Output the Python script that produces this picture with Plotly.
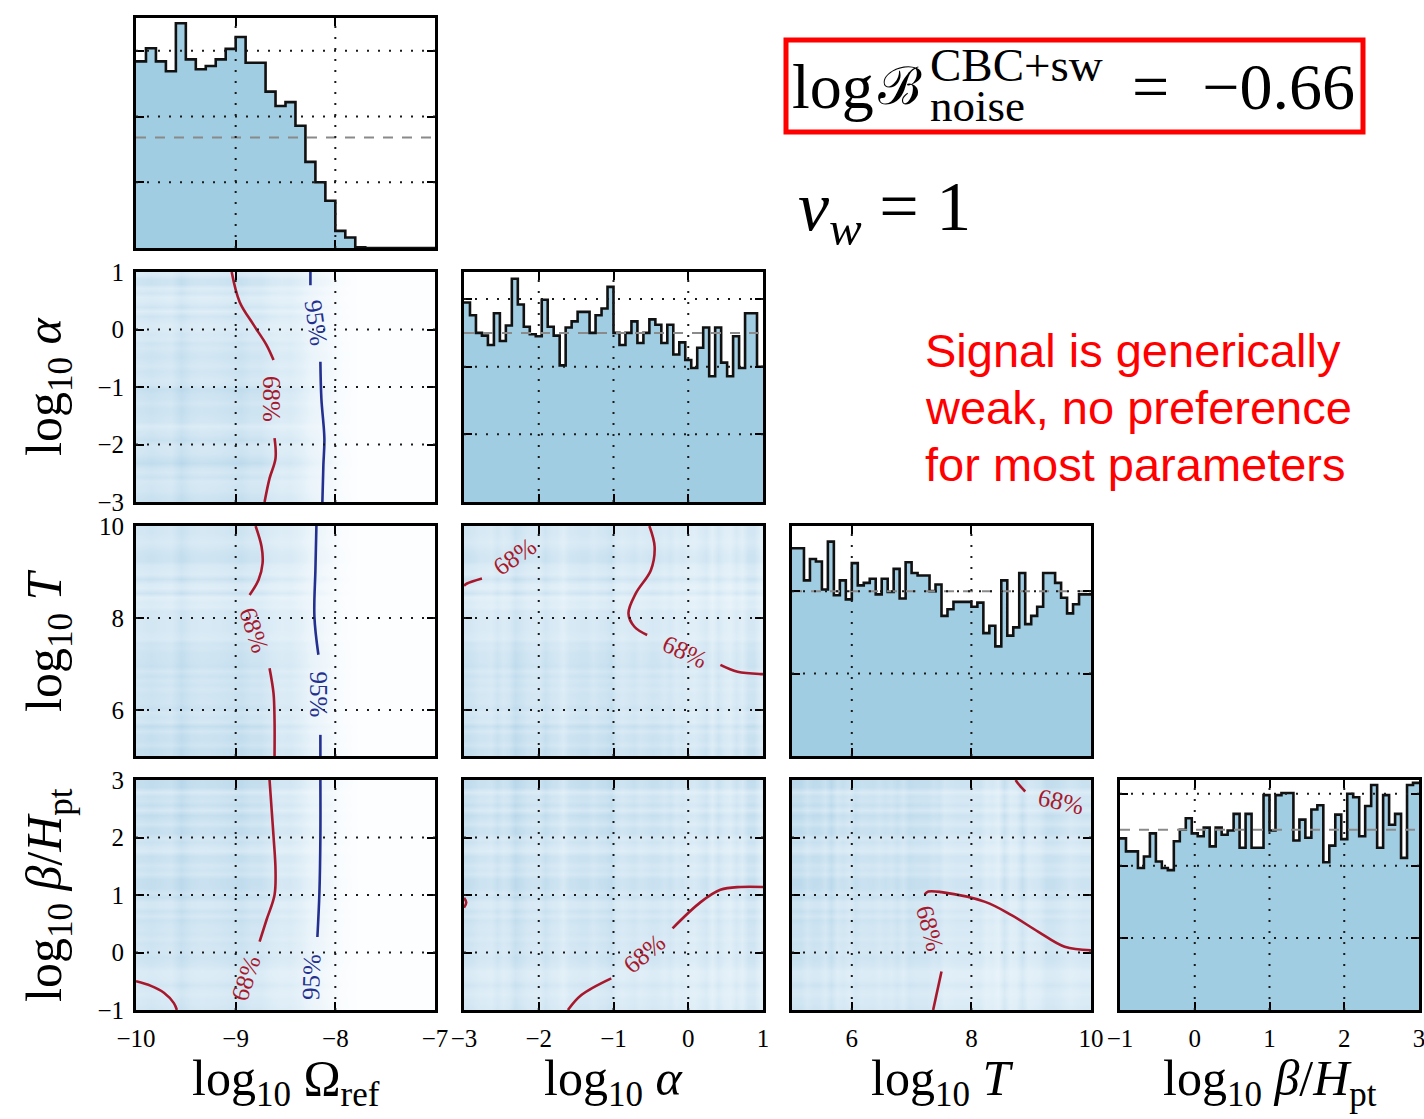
import numpy as np
import plotly.graph_objects as go

W, H = 1424, 1119

# ---------------- data ----------------
var_ranges = {"omega": [-10, -7], "alpha": [-3, 1], "T": [5, 10], "beta": [-1, 3]}
var_ticks = {"omega": [-10, -9, -8, -7], "alpha": [-3, -2, -1, 0, 1],
             "T": [6, 8, 10], "beta": [-1, 0, 1, 2, 3]}
var_order = ["omega", "alpha", "T", "beta"]

omega_hist = [2.84, 3.04, 2.84, 2.69, 3.42, 2.87, 2.72, 2.77, 2.87, 3.03,
              3.21, 2.82, 2.82, 2.38, 2.16, 2.22, 1.86, 1.31, 1.00, 0.72,
              0.26, 0.16, 0.01, 0, 0, 0, 0, 0, 0, 0]
alpha_hist = [2.95, 2.76, 2.50, 2.46, 2.32, 2.79, 2.38, 2.61, 3.30, 2.92,
              2.59, 2.48, 2.45, 2.99, 2.59, 2.46, 2.02, 2.58, 2.67, 2.81,
              2.81, 2.50, 2.76, 2.86, 3.18, 2.50, 2.32, 2.50, 2.67, 2.35,
              2.50, 2.70, 2.62, 2.35, 2.62, 2.18, 2.36, 2.10, 1.98, 2.28,
              2.58, 1.86, 2.58, 2.06, 1.86, 2.45, 1.98, 2.79, 2.79, 2.00]
T_hist = [2.52, 2.52, 2.13, 2.39, 2.36, 2.02, 2.60, 1.95, 2.13, 1.90,
          2.34, 2.07, 2.10, 2.15, 1.96, 2.15, 1.99, 2.27, 1.91, 2.35,
          2.22, 2.19, 2.19, 2.00, 2.08, 1.70, 1.78, 1.87, 1.87, 1.87,
          1.81, 1.86, 1.49, 1.58, 1.33, 2.13, 1.46, 1.56, 2.22, 1.60,
          1.70, 1.81, 2.22, 2.22, 2.10, 1.92, 1.73, 1.84, 1.96, 1.96]
beta_hist = [2.38, 2.20, 2.20, 1.97, 2.13, 2.45, 2.06, 1.97, 1.94, 2.34,
             2.50, 2.66, 2.45, 2.41, 2.53, 2.27, 2.53, 2.43, 2.49, 2.72,
             2.25, 2.72, 2.25, 2.25, 2.98, 2.49, 2.98, 3.01, 3.01, 2.35,
             2.64, 2.39, 2.78, 2.84, 2.05, 2.28, 2.71, 2.37, 3.00, 2.95,
             2.41, 2.83, 3.12, 2.25, 2.98, 2.57, 2.72, 2.11, 3.12, 3.15]
hists = {"omega": omega_hist, "alpha": alpha_hist, "T": T_hist, "beta": beta_hist}
prior_levels = {"omega": 1.68, "alpha": 2.5, "T": 2.0, "beta": 2.5}
hist_ymax = {"omega": 3.5, "alpha": 3.4, "T": 2.79, "beta": 3.19}
hist_yticks = {"omega": [1, 2, 3], "alpha": [1, 2, 3], "T": [1, 2], "beta": [1, 2, 3]}

# contour segments: (row, col) -> list of (level, xs, ys)
contours = {
    (1, 0): [("68", [-9.04, -8.96, -8.82, -8.69, -8.62], [1.0, 0.48, 0.08, -0.27, -0.53]),
             ("68", [-8.61, -8.60, -8.66, -8.71], [-1.89, -2.24, -2.59, -3.0]),
             ("95", [-8.25, -8.25], [1.0, 0.77]),
             ("95", [-8.15, -8.14, -8.11, -8.12, -8.13], [-0.56, -1.20, -1.89, -2.36, -3.0])],
    (2, 0): [("68", [-8.80, -8.74, -8.73, -8.77, -8.86], [10.0, 9.55, 9.19, 8.83, 8.50]),
             ("68", [-8.66, -8.62, -8.61, -8.61], [6.91, 6.36, 5.78, 5.0]),
             ("95", [-8.19, -8.20, -8.21, -8.17], [10.0, 9.04, 8.03, 7.20]),
             ("95", [-8.15, -8.15], [5.46, 5.0])],
    (3, 0): [("68", [-8.66, -8.62, -8.60, -8.61, -8.69, -8.76], [3.0, 2.02, 1.43, 1.0, 0.57, 0.19]),
             ("68", [-10.0, -9.85, -9.72, -9.62, -9.59], [-0.50, -0.58, -0.70, -0.88, -1.0]),
             ("95", [-8.15, -8.15, -8.16, -8.18], [3.0, 2.01, 1.03, 0.27])],
    (2, 1): [("68", [-3.0, -2.96, -2.76], [8.70, 8.75, 8.86]),
             ("68", [-0.52, -0.45, -0.50, -0.70, -0.80, -0.72, -0.55], [10.0, 9.55, 9.04, 8.54, 8.10, 7.81, 7.63]),
             ("68", [0.43, 0.66, 0.97, 1.0], [6.98, 6.83, 6.78, 6.78])],
    (3, 1): [("68", [-1.61, -1.43, -1.03], [-1.0, -0.74, -0.45]),
             ("68", [-0.21, 0.17, 0.43, 0.70, 1.0], [0.42, 0.88, 1.09, 1.14, 1.14]),
             ("68", [-3.0, -2.97, -3.0], [0.95, 0.87, 0.78])],
    (3, 2): [("68", [8.74, 8.78, 8.90], [3.0, 2.94, 2.80]),
             ("68", [10.0, 9.56, 9.12, 8.67, 8.23, 7.50, 7.28, 7.22], [0.04, 0.10, 0.36, 0.65, 0.88, 1.05, 1.06, 1.01]),
             ("68", [7.50, 7.36], [-0.33, -1.0])],
}
# contour labels: (row, col) -> list of (text, x, y, angle)
contour_labels = {
    (1, 0): [("68%", -8.64, -1.2, 90), ("95%", -8.19, 0.11, 82)],
    (2, 0): [("68%", -8.82, 7.74, 72), ("95%", -8.17, 6.33, 90)],
    (3, 0): [("68%", -8.90, -0.45, -72), ("95%", -8.24, -0.42, -88)],
    (2, 1): [("68%", -2.32, 9.33, -35), ("68%", -0.05, 7.27, 25)],
    (3, 1): [("68%", -0.59, -0.01, -40)],
    (3, 2): [("68%", 9.50, 2.62, 12), ("68%", 7.31, 0.42, 75)],
}

axis_titles = {"omega": "log<sub>10</sub> Ω<sub>ref</sub>",
               "alpha": "log<sub>10</sub> <i>α</i>",
               "T": "log<sub>10</sub> <i>T</i>",
               "beta": "log<sub>10</sub> <i>β</i>/<i>H</i><sub>pt</sub>"}

# ---------------- layout geometry ----------------
col_px = [(136, 435), (464, 763), (792, 1091), (1120, 1419)]
row_px = [(18, 248), (272, 502), (526, 756), (780, 1010)]


def px(x):
    return x / W


def py(y):
    return 1 - y / H


FILL = "#a0cde2"
RED = "#a8182c"
BLUE = "#23308f"
SERIF = "Liberation Serif, DejaVu Serif, serif"

fig = go.Figure()
layout = dict(width=W, height=H, autosize=False, margin=dict(l=0, r=0, t=0, b=0, pad=0),
              paper_bgcolor="white", plot_bgcolor="white", showlegend=False)
shapes = []
annotations = []

panels = [(r, c) for r in range(4) for c in range(r + 1)]
axis_common = dict(showline=True, linecolor="black", linewidth=2.8, mirror="allticks",
                   ticks="inside", ticklen=8, tickwidth=2, tickcolor="black",
                   showgrid=False, zeroline=False, layer="above traces", automargin=False,
                   tickfont=dict(family=SERIF, size=25, color="black"),
                   ticklabeloverflow="allow", ticklabelstandoff=4, fixedrange=True,
                   tickmode="array")


def centers(vals, rng):
    e = np.linspace(rng[0], rng[1], len(vals) + 1)
    return (e[:-1] + e[1:]) / 2


for k, (r, c) in enumerate(panels, start=1):
    xs = "x" if k == 1 else f"x{k}"
    ys = "y" if k == 1 else f"y{k}"
    xkey = "xaxis" if k == 1 else f"xaxis{k}"
    ykey = "yaxis" if k == 1 else f"yaxis{k}"
    xv = var_order[c]
    yv = var_order[r]
    xdom = [px(col_px[c][0]), px(col_px[c][1])]
    ydom = [py(row_px[r][1]), py(row_px[r][0])]

    layout[xkey] = dict(axis_common, domain=xdom, anchor=ys, range=var_ranges[xv],
                        tickvals=var_ticks[xv], showticklabels=(r == 3))
    xgrid = [t for t in var_ticks[xv] if var_ranges[xv][0] < t < var_ranges[xv][1]]

    if r == c:
        vals = hists[xv]
        edges = np.linspace(var_ranges[xv][0], var_ranges[xv][1], len(vals) + 1)
        fig.add_trace(go.Scatter(x=edges, y=list(vals) + [vals[-1]], mode="lines",
                                 line=dict(shape="hv", color="#111", width=2.6),
                                 fill="tozeroy", fillcolor=FILL, xaxis=xs, yaxis=ys,
                                 hoverinfo="skip"))
        fig.add_trace(go.Scatter(x=var_ranges[xv], y=[prior_levels[xv]] * 2, mode="lines",
                                 line=dict(color="#8a8a8a", width=2, dash="10px,9px"),
                                 xaxis=xs, yaxis=ys, hoverinfo="skip"))
        layout[ykey] = dict(axis_common, domain=ydom, anchor=xs, range=[0, hist_ymax[xv]],
                            tickvals=hist_yticks[xv], showticklabels=False)
        ygrid = hist_yticks[xv]
    else:
        hx = np.array(hists[xv], dtype=float)
        hy = np.array(hists[yv], dtype=float)
        z = np.outer(hy, hx)
        z = z / z.max()
        fig.add_trace(go.Heatmap(x=centers(hx, var_ranges[xv]), y=centers(hy, var_ranges[yv]),
                                 z=z, zmin=0, zmax=1, zsmooth="best", showscale=False,
                                 colorscale=[[0, "rgb(253,254,255)"], [0.5, "rgb(220,236,246)"],
                                             [1, "rgb(184,215,234)"]],
                                 xaxis=xs, yaxis=ys, hoverinfo="skip"))
        for lev, cx, cy in contours.get((r, c), []):
            fig.add_trace(go.Scatter(x=cx, y=cy, mode="lines",
                                     line=dict(color=RED if lev == "68" else BLUE, width=2.6,
                                               shape="spline"),
                                     xaxis=xs, yaxis=ys, hoverinfo="skip"))
        for txt, lx, ly, ang in contour_labels.get((r, c), []):
            annotations.append(dict(text=txt, x=lx, y=ly, xref=xs, yref=ys, showarrow=False,
                                    textangle=ang, xanchor="center", yanchor="middle",
                                    font=dict(family=SERIF, size=25,
                                              color=RED if txt.startswith("68") else BLUE)))
        layout[ykey] = dict(axis_common, domain=ydom, anchor=xs, range=var_ranges[yv],
                            tickvals=var_ticks[yv], showticklabels=(c == 0))
        ygrid = [t for t in var_ticks[yv] if var_ranges[yv][0] < t < var_ranges[yv][1]]

    for g in xgrid:
        shapes.append(dict(type="line", xref=xs, yref=f"{ys} domain", x0=g, x1=g, y0=0, y1=1,
                           line=dict(color="#1a1a1a", width=2, dash="2px,9px"), layer="above"))
    for g in ygrid:
        shapes.append(dict(type="line", xref=f"{xs} domain", yref=ys, x0=0, x1=1, y0=g, y1=g,
                           line=dict(color="#1a1a1a", width=2, dash="2px,9px"), layer="above"))

# axis titles
for c, v in enumerate(var_order):
    annotations.append(dict(text=axis_titles[v], x=px((col_px[c][0] + col_px[c][1]) / 2),
                            y=py(1082), xref="paper", yref="paper", showarrow=False,
                            xanchor="center", yanchor="middle",
                            font=dict(family=SERIF, size=50, color="black")))
for r in range(1, 4):
    v = var_order[r]
    annotations.append(dict(text=axis_titles[v], x=px(48), y=py((row_px[r][0] + row_px[r][1]) / 2),
                            xref="paper", yref="paper", showarrow=False, textangle=-90,
                            xanchor="center", yanchor="middle",
                            font=dict(family=SERIF, size=50, color="black")))

# Bayes factor box
shapes.append(dict(type="rect", xref="paper", yref="paper", x0=px(786), x1=px(1363),
                   y0=py(132), y1=py(40), line=dict(color="#ff0000", width=5),
                   fillcolor="white", layer="above"))
box_texts = [
    dict(text="log", x=px(790), y=py(86), xanchor="left", yanchor="middle", size=64),
    dict(text="ℬ", x=px(924), y=py(86), xanchor="right", yanchor="middle", size=52),
    dict(text="CBC+sw", x=px(928), y=py(65), xanchor="left", yanchor="middle", size=47),
    dict(text="noise", x=px(928), y=py(106), xanchor="left", yanchor="middle", size=45),
    dict(text="=\u00a0\u00a0−0.66", x=px(1357), y=py(86), xanchor="right", yanchor="middle", size=66),
    dict(text="<i>v</i><sub><i>w</i></sub>\u00a0=\u00a01", x=px(796), y=py(212), xanchor="left",
         yanchor="middle", size=70),
]
for a in box_texts:
    size = a.pop("size")
    a.update(xref="paper", yref="paper", showarrow=False,
             font=dict(family=SERIF, size=size, color="black"))
    annotations.append(a)

# red comment text
for i, line in enumerate(["Signal is generically", "weak, no preference", "for most parameters"]):
    annotations.append(dict(text=line, x=px(923), y=py(350 + 57 * i), xref="paper", yref="paper",
                            showarrow=False, xanchor="left", yanchor="middle",
                            font=dict(family="Liberation Sans, Arial, sans-serif", size=47,
                                      color="#ff0000")))

layout["shapes"] = shapes
layout["annotations"] = annotations
fig.update_layout(**layout)
fig.write_html("out.html", config={"displayModeBar": False}, post_script=(
    "document.documentElement.style.margin='0';document.body.style.margin='0';"
    "document.body.style.padding='0';document.documentElement.style.overflow='hidden';"
    "document.body.style.overflow='hidden';"))
